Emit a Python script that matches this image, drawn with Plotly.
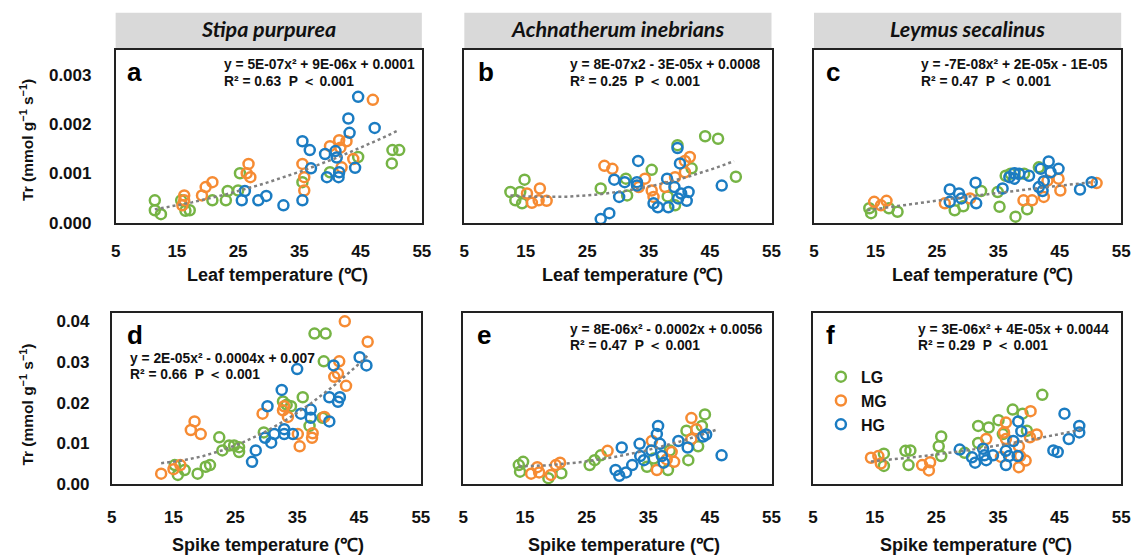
import numpy as np
import plotly.graph_objects as go

W, H = 1145, 559

# ---------------- data ----------------
groups = ["LG", "MG", "HG"]
colors = {"LG": "#76B445", "MG": "#F68B33", "HG": "#1B7CC2"}

species = ["Stipa purpurea", "Achnatherum inebrians", "Leymus secalinus"]
panel_letters = ["a", "b", "c", "d", "e", "f"]
x_titles = ["Leaf temperature (℃)", "Spike temperature (℃)"]
x_ticks = [5, 15, 25, 35, 45, 55]
y_ticks_leaf = [0.000, 0.001, 0.002, 0.003]
y_ticks_spike = [0.00, 0.01, 0.02, 0.03, 0.04]

# Panel a: Stipa purpurea, leaf temperature
a_LG_x = [11.4, 11.4, 12.4, 15.7, 16.4, 17.1, 20.8, 23.0, 23.3, 25.0, 25.3, 35.5, 40.0, 44.6, 50.2, 51.3, 50.1]
a_LG_y = [0.00045, 0.00025, 0.00017, 0.00045, 0.00024, 0.00025, 0.00045, 0.00045, 0.00064, 0.00065, 0.00100, 0.00082, 0.00102, 0.00133, 0.00147, 0.00147, 0.00120]
a_MG_x = [16.2, 16.2, 15.9, 19.1, 19.7, 20.8, 26.7, 26.4, 27.0, 35.5, 35.8, 35.8, 40.0, 41.5, 42.7, 41.7, 43.8, 41.9, 47.0]
a_MG_y = [0.00055, 0.00045, 0.00035, 0.00055, 0.00072, 0.00082, 0.00119, 0.00100, 0.00092, 0.00119, 0.00092, 0.00065, 0.00155, 0.00167, 0.00165, 0.00152, 0.00129, 0.00112, 0.00249]
a_HG_x = [26.1, 25.6, 28.3, 29.6, 32.4, 35.5, 35.5, 36.7, 36.9, 39.2, 40.9, 41.1, 39.5, 41.4, 41.5, 44.1, 43.0, 43.2, 44.6, 47.3]
a_HG_y = [0.00064, 0.00045, 0.00045, 0.00054, 0.00035, 0.00045, 0.00165, 0.00147, 0.00110, 0.00139, 0.00145, 0.00132, 0.00092, 0.00092, 0.00102, 0.00111, 0.00211, 0.00182, 0.00255, 0.00192]

# Panel b: Achnatherum inebrians, leaf temperature
b_LG_x = [12.5, 13.3, 14.4, 14.8, 14.1, 27.2, 31.3, 31.5, 35.5, 39.7, 42.0, 38.1, 39.3, 44.2, 46.3, 49.2]
b_LG_y = [0.00062, 0.00045, 0.00039, 0.00087, 0.00062, 0.00069, 0.00089, 0.00055, 0.00107, 0.00157, 0.00110, 0.00053, 0.00035, 0.00175, 0.00170, 0.00093]
b_MG_x = [15.2, 16.0, 17.1, 17.3, 18.4, 27.8, 29.1, 34.4, 33.4, 35.5, 35.8, 37.7, 39.3, 40.9, 41.7, 40.9]
b_MG_y = [0.00059, 0.00040, 0.00045, 0.00069, 0.00044, 0.00115, 0.00109, 0.00089, 0.00072, 0.00065, 0.00052, 0.00072, 0.00092, 0.00102, 0.00133, 0.00125]
b_HG_x = [27.2, 28.6, 29.4, 30.2, 31.1, 33.3, 33.1, 33.1, 35.8, 36.5, 38.0, 38.2, 39.2, 39.8, 40.3, 41.2, 41.5, 39.7, 40.1, 46.9]
b_HG_y = [0.00007, 0.00019, 0.00087, 0.00052, 0.00082, 0.00125, 0.00082, 0.00075, 0.00039, 0.00031, 0.00089, 0.00031, 0.00072, 0.00049, 0.00059, 0.00044, 0.00062, 0.00151, 0.00120, 0.00075]

# Panel c: Leymus secalinus, leaf temperature
c_LG_x = [14.0, 14.3, 17.2, 18.6, 27.9, 29.3, 32.2, 34.9, 35.2, 36.2, 37.0, 37.8, 39.7, 41.6, 39.2]
c_LG_y = [0.00029, 0.00019, 0.00029, 0.00022, 0.00025, 0.00033, 0.00064, 0.00062, 0.00032, 0.00095, 0.00099, 0.00012, 0.00027, 0.00112, 0.00099]
c_MG_x = [14.8, 15.9, 16.8, 26.3, 30.4, 39.1, 40.5, 42.4, 44.8, 45.1, 51.0, 43.0]
c_MG_y = [0.00042, 0.00035, 0.00044, 0.00039, 0.00049, 0.00045, 0.00045, 0.00052, 0.00089, 0.00065, 0.00080, 0.00085]
c_HG_x = [27.1, 27.1, 28.6, 29.0, 31.4, 31.3, 35.7, 36.8, 37.6, 37.6, 38.4, 40.0, 41.9, 43.2, 44.8, 43.5, 41.6, 42.4, 42.2, 48.3, 50.2]
c_HG_y = [0.00067, 0.00042, 0.00059, 0.00049, 0.00039, 0.00081, 0.00069, 0.00092, 0.00100, 0.00089, 0.00099, 0.00095, 0.00109, 0.00124, 0.00109, 0.00102, 0.00072, 0.00084, 0.00064, 0.00067, 0.00082]

# Panel d: Stipa purpurea, spike temperature
d_LG_x = [15.2, 15.7, 16.8, 18.9, 20.2, 20.9, 22.4, 22.9, 24.0, 24.8, 25.6, 25.6, 29.6, 32.7, 33.3, 34.0, 35.9, 37.0, 37.8, 39.6, 39.3, 39.1]
d_LG_y = [0.0047, 0.0023, 0.0035, 0.0026, 0.0043, 0.0047, 0.0115, 0.0083, 0.0095, 0.0095, 0.0091, 0.0079, 0.0127, 0.0203, 0.0195, 0.0191, 0.0213, 0.0143, 0.0369, 0.0369, 0.0301, 0.0163]
d_MG_x = [13.0, 15.0, 16.1, 18.4, 17.8, 19.4, 29.4, 32.9, 32.7, 33.5, 35.1, 35.4, 37.5, 37.4, 39.4, 41.0, 41.6, 41.8, 42.9, 42.7, 46.4]
d_MG_y = [0.0026, 0.0037, 0.0047, 0.0154, 0.0133, 0.0123, 0.0173, 0.0191, 0.0181, 0.0165, 0.0123, 0.0093, 0.0125, 0.0114, 0.0165, 0.0263, 0.0271, 0.0301, 0.0241, 0.0399, 0.0349]
d_HG_x = [27.7, 28.3, 29.8, 30.8, 31.3, 30.2, 32.5, 32.9, 32.9, 34.3, 35.0, 35.6, 37.2, 37.2, 40.2, 41.6, 41.9, 40.2, 40.9, 45.1, 46.2]
d_HG_y = [0.0055, 0.0083, 0.0114, 0.0102, 0.0123, 0.0191, 0.0231, 0.0135, 0.0123, 0.0123, 0.0282, 0.0173, 0.0183, 0.0163, 0.0213, 0.0202, 0.0213, 0.0154, 0.0291, 0.0311, 0.0291]

# Panel e: Achnatherum inebrians, spike temperature
e_LG_x = [14.0, 14.7, 14.2, 18.8, 20.9, 25.5, 26.3, 27.3, 34.8, 35.9, 38.2, 38.5, 41.2, 41.5, 43.1, 43.7, 44.2]
e_LG_y = [0.0047, 0.0055, 0.0031, 0.0015, 0.0027, 0.0047, 0.0059, 0.0071, 0.0043, 0.0063, 0.0035, 0.0083, 0.0131, 0.0059, 0.0093, 0.0143, 0.0171]
e_MG_x = [16.0, 17.0, 17.3, 19.2, 20.0, 20.7, 28.4, 35.6, 36.4, 38.0, 39.2, 38.8, 42.0, 42.8, 42.0]
e_MG_y = [0.0026, 0.0042, 0.0029, 0.0023, 0.0047, 0.0053, 0.0082, 0.0106, 0.0035, 0.0061, 0.0055, 0.0079, 0.0162, 0.0135, 0.0111]
e_HG_x = [29.7, 30.3, 31.4, 32.4, 30.7, 33.6, 33.7, 34.3, 35.5, 36.6, 36.4, 36.9, 37.2, 37.5, 39.9, 41.4, 43.9, 44.4, 46.9]
e_HG_y = [0.0035, 0.0021, 0.0029, 0.0047, 0.0090, 0.0099, 0.0069, 0.0059, 0.0083, 0.0143, 0.0123, 0.0099, 0.0069, 0.0053, 0.0106, 0.0090, 0.0117, 0.0122, 0.0071]

# Panel f: Leymus secalinus, spike temperature
f_LG_x = [16.5, 16.5, 20.0, 20.8, 20.5, 25.4, 25.8, 25.8, 29.6, 31.8, 33.5, 31.8, 35.1, 37.4, 39.0, 35.8, 39.7, 42.2]
f_LG_y = [0.0075, 0.0045, 0.0082, 0.0083, 0.0047, 0.0093, 0.0117, 0.0069, 0.0077, 0.0143, 0.0139, 0.0101, 0.0157, 0.0183, 0.0173, 0.0123, 0.0131, 0.0219]
f_MG_x = [14.4, 15.6, 16.0, 22.7, 24.0, 23.8, 33.1, 36.3, 36.0, 36.3, 35.5, 38.4, 38.6, 38.4, 39.5, 40.3, 40.2, 41.3]
f_MG_y = [0.0065, 0.0069, 0.0051, 0.0047, 0.0054, 0.0034, 0.0111, 0.0151, 0.0127, 0.0111, 0.0067, 0.0093, 0.0069, 0.0042, 0.0058, 0.0179, 0.0115, 0.0122]
f_HG_x = [28.8, 30.8, 31.3, 32.6, 32.8, 34.2, 33.1, 36.3, 36.3, 36.8, 38.2, 37.5, 38.3, 38.8, 44.0, 44.7, 45.8, 46.5, 48.2, 48.2]
f_HG_y = [0.0085, 0.0066, 0.0053, 0.0087, 0.0071, 0.0071, 0.0059, 0.0082, 0.0047, 0.0069, 0.0069, 0.0106, 0.0154, 0.0130, 0.0083, 0.0079, 0.0173, 0.0111, 0.0143, 0.0127]

# Quadratic trend coefficients (a2, a1, a0) and fitted x span per panel
trend_coef = [(5e-07, 9e-06, 0.0001), (8e-07, -3e-05, 0.0008), (-7e-08, 2e-05, -1e-05),
              (2e-05, -0.0004, 0.007), (8e-06, -0.0002, 0.0056), (3e-06, 4e-05, 0.0044)]
trend_span = [(11.4, 51.3), (12.5, 48.9), (13.7, 50.7), (13.0, 46.7), (14.0, 46.3), (14.4, 48.9)]

eq_line1 = ["y = 5E-07x² + 9E-06x + 0.0001", "y = 8E-07x2 - 3E-05x + 0.0008", "y = -7E-08x² + 2E-05x - 1E-05",
            "y = 2E-05x² - 0.0004x + 0.007", "y = 8E-06x² - 0.0002x + 0.0056", "y = 3E-06x² + 4E-05x + 0.0044"]
eq_line2 = ["R² = 0.63  P ＜ 0.001", "R² = 0.25  P ＜ 0.001", "R² = 0.47  P ＜ 0.001",
            "R² = 0.66  P ＜ 0.001", "R² = 0.47  P ＜ 0.001", "R² = 0.29  P ＜ 0.001"]

panel_data = [
    {"LG": (a_LG_x, a_LG_y), "MG": (a_MG_x, a_MG_y), "HG": (a_HG_x, a_HG_y)},
    {"LG": (b_LG_x, b_LG_y), "MG": (b_MG_x, b_MG_y), "HG": (b_HG_x, b_HG_y)},
    {"LG": (c_LG_x, c_LG_y), "MG": (c_MG_x, c_MG_y), "HG": (c_HG_x, c_HG_y)},
    {"LG": (d_LG_x, d_LG_y), "MG": (d_MG_x, d_MG_y), "HG": (d_HG_x, d_HG_y)},
    {"LG": (e_LG_x, e_LG_y), "MG": (e_MG_x, e_MG_y), "HG": (e_HG_x, e_HG_y)},
    {"LG": (f_LG_x, f_LG_y), "MG": (f_MG_x, f_MG_y), "HG": (f_HG_x, f_HG_y)},
]

# ---------------- layout geometry (pixels) ----------------
def px(x):
    return x / W

def py(y):
    return 1 - y / H

col_top = [(112, 422), (465, 776), (819, 1130)]
col_bot = [(108, 421), (464, 776), (818, 1130)]
row_top = (50, 226)
row_bot = (318, 493)

FONT = "Liberation Sans"
HEAD_FONT = "Lato"
fig = go.Figure()
layout = dict(
    width=W, height=H, margin=dict(l=0, r=0, t=0, b=0),
    paper_bgcolor="white", plot_bgcolor="white",
    font=dict(family=FONT, color="#111"),
    showlegend=True,
    legend=dict(x=px(826), y=py(366), xanchor="left", yanchor="top",
                font=dict(family=FONT, size=16, color="#111", weight="bold"),
                bgcolor="rgba(0,0,0,0)", tracegroupgap=0, itemwidth=30),
)

annotations = []
shapes = []

for i in range(6):
    top = i < 3
    c = i % 3
    cx0, cx1 = (col_top if top else col_bot)[c]
    ry0, ry1 = row_top if top else row_bot
    n = "" if i == 0 else str(i + 1)
    xa, ya = "x" + n, "y" + n

    layout["xaxis" + n] = dict(
        domain=[px(cx0), px(cx1)], range=[5, 55], anchor=ya,
        tickvals=x_ticks, ticks="outside", ticklen=12 if top else 17, tickcolor="rgba(0,0,0,0)",
        tickfont=dict(family=FONT, size=17, color="#111", weight="bold"),
        showline=True, linecolor="#222", linewidth=1.5, mirror=True,
        showgrid=False, zeroline=False, fixedrange=True,
    )
    layout["yaxis" + n] = dict(
        domain=[py(ry1), py(ry0)],
        range=[0, 0.0035] if top else [0, 0.042], anchor=xa,
        tickvals=y_ticks_leaf if top else y_ticks_spike,
        tickformat=".3f" if top else ".2f",
        showticklabels=(c == 0),
        ticks="outside", ticklen=19 if top else 17, tickcolor="rgba(0,0,0,0)",
        tickfont=dict(family=FONT, size=17, color="#111", weight="bold"),
        showline=True, linecolor="#222", linewidth=1.5, mirror=True,
        showgrid=False, zeroline=False, fixedrange=True,
    )

    # scatter groups
    for g in groups:
        gx, gy = panel_data[i][g]
        fig.add_trace(go.Scatter(
            x=gx, y=gy, xaxis=xa, yaxis=ya, mode="markers", name=g,
            legendgroup=g, showlegend=(i == 0),
            marker=dict(symbol="circle-open", size=10, color=colors[g],
                        line=dict(width=2.5, color=colors[g])),
            cliponaxis=False, hoverinfo="x+y",
        ))

    # quadratic trend from the stated equation
    a2, a1, a0 = trend_coef[i]
    tx = np.linspace(trend_span[i][0], trend_span[i][1], 80)
    ty = a2 * tx ** 2 + a1 * tx + a0
    fig.add_trace(go.Scatter(
        x=tx, y=ty, xaxis=xa, yaxis=ya, mode="lines", showlegend=False,
        line=dict(color="#808080", width=2.5, dash="dot"), hoverinfo="skip",
    ))

# species headers
for c, name in enumerate(species):
    cx0, cx1 = col_top[c]
    shapes.append(dict(type="rect", xref="paper", yref="paper",
                       x0=px(cx0), x1=px(cx1), y0=py(49), y1=py(12),
                       fillcolor="#d9d9d9", line=dict(width=0), layer="below"))
    annotations.append(dict(xref="paper", yref="paper", x=px((cx0 + cx1) / 2), y=py(29),
                            text="<b><i>%s</i></b>" % name, showarrow=False,
                            xanchor="center", yanchor="middle",
                            font=dict(family=HEAD_FONT, size=21.5, color="#111")))

# panel letters
letter_pos = [(131, 72), (487, 72), (838, 72), (132, 341), (485, 341), (836, 341)]
for (lx, ly), t in zip(letter_pos, panel_letters):
    annotations.append(dict(xref="paper", yref="paper", x=px(lx), y=py(ly), text="<b>%s</b>" % t,
                            showarrow=False, xanchor="center", yanchor="middle",
                            font=dict(family=FONT, size=26, color="#000")))

# regression equations
eq_pos = [(220, 65, 82), (570, 65, 82), (925, 65, 82), (125, 365, 381), (570, 335, 351), (922, 335, 351)]
for (ex, e1, e2), l1, l2 in zip(eq_pos, eq_line1, eq_line2):
    for yy, t in ((e1, l1), (e2, l2)):
        annotations.append(dict(xref="paper", yref="paper", x=px(ex), y=py(yy), text="<b>%s</b>" % t,
                                showarrow=False, xanchor="left", yanchor="middle",
                                font=dict(family=FONT, size=13.8, color="#111")))

# axis titles
xt_top = [276, 635, 990]
xt_bot = [266, 627, 983]
for c in range(3):
    annotations.append(dict(xref="paper", yref="paper", x=px(xt_top[c]), y=py(279),
                            text="<b>%s</b>" % x_titles[0], showarrow=False,
                            xanchor="center", yanchor="middle",
                            font=dict(family=FONT, size=18, color="#111")))
    annotations.append(dict(xref="paper", yref="paper", x=px(xt_bot[c]), y=py(555),
                            text="<b>%s</b>" % x_titles[1], showarrow=False,
                            xanchor="center", yanchor="middle",
                            font=dict(family=FONT, size=18, color="#111")))

y_title = "<b>Tr (mmol g<sup>−1</sup> s<sup>−1</sup>)</b>"
for yc in (142, 412):
    annotations.append(dict(xref="paper", yref="paper", x=px(22), y=py(yc), text=y_title,
                            showarrow=False, textangle=-90, xanchor="center", yanchor="middle",
                            font=dict(family=FONT, size=15.5, color="#111")))

layout["annotations"] = annotations
layout["shapes"] = shapes
fig.update_layout(**layout)
fig.write_html("out.html")
